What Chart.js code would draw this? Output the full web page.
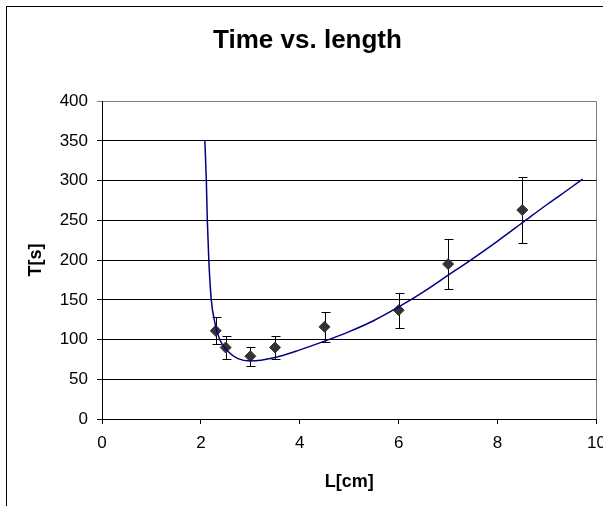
<!DOCTYPE html>
<html>
<head>
<meta charset="utf-8">
<script src="https://cdn.jsdelivr.net/npm/chart.js@4"></script>
<style>
  html, body { margin: 0; padding: 0; background: #fff; overflow: hidden; }
  #frame { position: absolute; left: 6px; top: 6px; width: 800px; height: 800px; border: 1px solid #000; }
  #wrap { position: absolute; left: 0; top: 0; width: 603px; height: 506px; }
</style>
</head>
<body>
<div id="frame"></div>
<div id="wrap"><canvas id="myChart"></canvas></div>
<script>
// measured points (L in cm, T in s) with error bar half-height
const lengths = [2.3, 2.5, 3, 3.5, 4.5, 6, 7, 8.5];
const times = [111, 90, 79, 90, 116, 137, 195, 263];
const errors = [17, 14, 12, 14, 19, 22, 31, 42];

// fitted curve
const fitL = [2.08, 2.11, 2.13, 2.16, 2.21, 2.28, 2.38, 2.55, 2.75, 3.0, 3.5, 4.0, 4.5, 5.0, 5.5, 6.0, 6.5, 7.0, 7.5, 8.0, 8.5, 9.0, 9.5, 9.72];
const fitT = [350, 300, 250, 200, 150, 122, 100, 85, 76, 73, 77.5, 87, 98, 110, 124, 141, 160, 181, 202, 224, 247, 270, 292, 302];

const xTicks = [0, 2, 4, 6, 8, 10];
const yTicks = [0, 50, 100, 150, 200, 250, 300, 350, 400];

const font = 'Arial, "Liberation Sans", sans-serif';

// error bars drawn just before the markers
const errorBars = {
    id: 'errorBars',
    beforeDatasetDraw(chart, args) {
        if (args.index !== 1) return;
        const ctx = chart.ctx;
        const x = chart.scales.x, y = chart.scales.y;
        ctx.save();
        ctx.strokeStyle = '#000';
        ctx.lineWidth = 1;
        for (let i = 0; i < lengths.length; i++) {
            const px = Math.round(x.getPixelForValue(lengths[i])) + 0.5;
            const top = Math.round(y.getPixelForValue(times[i] + errors[i])) + 0.5;
            const bot = Math.round(y.getPixelForValue(times[i] - errors[i])) + 0.5;
            ctx.beginPath();
            ctx.moveTo(px, top); ctx.lineTo(px, bot);
            ctx.moveTo(px - 4, top); ctx.lineTo(px + 5, top);
            ctx.moveTo(px - 4, bot); ctx.lineTo(px + 5, bot);
            ctx.stroke();
        }
        ctx.restore();
    }
};

function noPad(scale) {
    scale.paddingLeft = 0;
    scale.paddingRight = 0;
    scale.paddingTop = 0;
    scale.paddingBottom = 0;
}

const ctx = document.getElementById('myChart').getContext('2d');
new Chart(ctx, {
    type: 'scatter',
    data: {
        datasets: [
            {
                type: 'line',
                label: 'fit',
                data: fitL.map((l, i) => ({ x: l, y: fitT[i] })),
                borderColor: '#000080',
                borderWidth: 1.5,
                pointRadius: 0,
                fill: false,
                cubicInterpolationMode: 'monotone',
            },
            {
                label: 'T',
                data: lengths.map((l, i) => ({ x: l, y: times[i] })),
                pointStyle: 'rectRot',
                pointRadius: 5.5,
                backgroundColor: '#333333',
                borderColor: '#333333',
                borderWidth: 1,
            },
        ],
    },
    plugins: [errorBars],
    options: {
        responsive: true,
        maintainAspectRatio: false,
        animation: false,
        layout: { padding: { left: 18, right: 6, top: 0, bottom: 0 } },
        plugins: {
            legend: { display: false },
            tooltip: { enabled: false },
            title: {
                display: true,
                text: 'Time vs. length',
                color: '#000',
                font: { family: font, size: 26, weight: 'bold', lineHeight: 1.2 },
                padding: { top: 25, bottom: 45 },
            },
        },
        scales: {
            x: {
                type: 'linear',
                min: 0,
                max: 10,
                afterBuildTicks: s => { s.ticks = xTicks.map(v => ({ value: v })); },
                afterFit: s => { s.height = 87; noPad(s); },
                ticks: { color: '#000', font: { family: font, size: 17 }, padding: 9, maxRotation: 0 },
                grid: {
                    color: c => (c.tick && c.tick.value === 10 ? '#808080' : 'rgba(0,0,0,0)'),
                    tickColor: '#000',
                    tickLength: 5,
                },
                border: { color: '#000', width: 1 },
                title: {
                    display: true,
                    text: 'L[cm]',
                    color: '#000',
                    font: { family: font, size: 18, weight: 'bold', lineHeight: 1.2 },
                    padding: { top: 0, bottom: 13 },
                },
            },
            y: {
                min: 0,
                max: 400,
                afterBuildTicks: s => { s.ticks = yTicks.map(v => ({ value: v })); },
                afterFit: s => { s.width = 84; noPad(s); },
                ticks: { color: '#000', font: { family: font, size: 17 }, padding: 9 },
                grid: {
                    color: c => (c.tick && c.tick.value === 400 ? '#808080' : '#000'),
                    tickColor: c => (c.tick && c.tick.value === 400 ? '#808080' : '#000'),
                    tickLength: 5,
                },
                border: { color: '#000', width: 1 },
                title: {
                    display: true,
                    text: 'T[s]',
                    color: '#000',
                    font: { family: font, size: 18, weight: 'bold', lineHeight: 1.2 },
                    padding: { top: 7, bottom: 0 },
                },
            },
        },
    },
});
</script>
</body>
</html>
